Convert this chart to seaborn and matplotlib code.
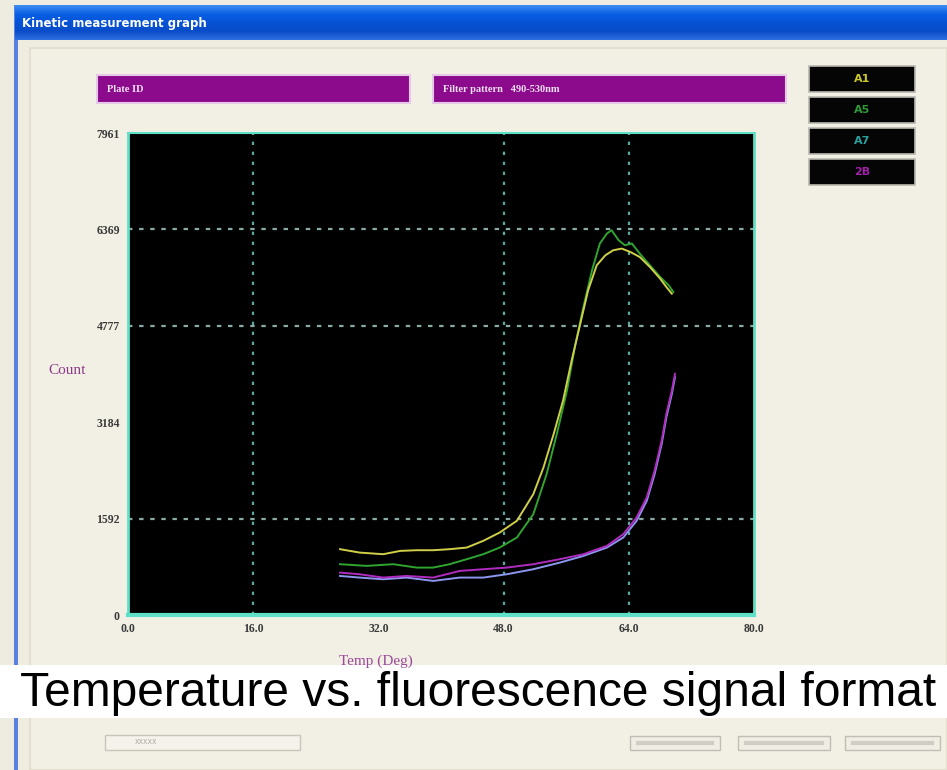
import numpy as np
import pandas as pd
import matplotlib
matplotlib.use("Agg")
import matplotlib.pyplot as plt
from matplotlib.patches import Rectangle
from matplotlib.colors import LinearSegmentedColormap
import seaborn as sns

# ---------------- data ----------------
temp_a1 = [27.1, 29.6, 32.6, 34.8, 36.9, 39.0, 41.1, 43.3, 45.4, 47.5, 49.7, 51.8, 53.1, 54.4,
           55.6, 56.7, 57.8, 58.8, 59.9, 61.0, 62.0, 63.1, 64.2, 65.4, 66.7, 68.0, 68.8, 69.5]
count_a1 = [1087, 1031, 1004, 1059, 1070, 1070, 1087, 1114, 1225, 1362, 1556, 1997, 2438, 2990,
            3542, 4204, 4811, 5362, 5776, 5941, 6024, 6052, 5996, 5913, 5748, 5556, 5417, 5307]

temp_a5 = [27.1, 30.5, 33.9, 36.9, 39.0, 41.1, 43.3, 45.4, 47.5, 49.7, 51.8, 53.5, 54.8, 56.1,
           57.1, 58.2, 59.3, 60.3, 61.2, 61.8, 62.7, 63.5, 64.4, 65.4, 66.7, 68.0, 69.1, 69.7]
count_a5 = [839, 811, 839, 783, 783, 839, 922, 1004, 1114, 1280, 1666, 2328, 2990, 3707,
            4424, 5086, 5693, 6135, 6300, 6355, 6190, 6107, 6135, 5969, 5776, 5583, 5445, 5334]

temp_a7 = [27.1, 29.6, 32.6, 35.6, 39.0, 42.4, 45.4, 48.4, 51.8, 55.2, 58.2, 61.2, 63.3, 65.0,
           66.3, 67.3, 68.2, 68.8, 69.5, 69.9]
count_a7 = [645, 618, 590, 618, 563, 618, 618, 673, 756, 866, 976, 1114, 1280, 1556,
            1887, 2328, 2825, 3266, 3652, 3928]

temp_2b = [27.1, 29.6, 32.6, 35.6, 39.0, 42.4, 45.4, 48.4, 51.8, 55.2, 58.2, 61.2, 63.3, 65.0,
           66.3, 67.3, 68.2, 68.8, 69.5, 69.9]
count_2b = [700, 673, 618, 645, 618, 728, 756, 783, 839, 922, 1004, 1142, 1335, 1611,
            1942, 2383, 2880, 3321, 3707, 3983]

series_names = ["A1", "A5", "A7", "2B"]
x_ticks = [0.0, 16.0, 32.0, 48.0, 64.0, 80.0]
y_ticks = [0, 1592, 3184, 4777, 6369, 7961]
x_grid = [16.0, 48.0, 64.0]
y_grid = [1592, 4777, 6369]

title_text = "Kinetic measurement graph"
plate_text = "Plate ID"
filter_text = "Filter pattern   490-530nm"
caption = "Temperature vs. fluorescence signal format"

# ---------------- styling ----------------
line_colors = {"A1": "#cfcf48", "A5": "#2fa52f", "A7": "#8c96ee", "2B": "#b02cc0"}
label_colors = {"A1": "#c8c828", "A5": "#2e9a3a", "A7": "#2aa0a0", "2B": "#a020a8"}

W, H = 947, 770
fig = plt.figure(figsize=(W / 100, H / 100), dpi=100)
fig.patch.set_facecolor("#eeece0")

def fx(px):
    return px / W

def fy(py):
    return 1 - py / H

# background axes for window chrome
bg = fig.add_axes([0, 0, 1, 1])
bg.set_xlim(0, W)
bg.set_ylim(H, 0)
bg.axis("off")

bg.add_patch(Rectangle((15, 5), W - 15, H - 5, facecolor="#efede0", edgecolor="none"))
bg.add_patch(Rectangle((30, 48), W - 30, H - 48, facecolor="#f2f0e4", edgecolor="#e4e0d0", lw=1.5))
bg.add_patch(Rectangle((14, 5), 4, H - 5, facecolor="#5a80e0", edgecolor="none"))

grad = np.linspace(0, 1, 64).reshape(-1, 1)
cm = LinearSegmentedColormap.from_list("xp", ["#3d8cf2", "#0b5fe3", "#0552d6", "#0a4cc8", "#2e6ee0"])
bg.imshow(grad, extent=(15, W, 40, 5), aspect="auto", cmap=cm, zorder=1)
bg.text(22, 24, title_text, color="white", fontsize=8.5, fontweight="bold",
        va="center", ha="left", family="DejaVu Sans", zorder=2)

for (x0, x1, txt) in [(97, 410, plate_text), (433, 786, filter_text)]:
    bg.add_patch(Rectangle((x0, 75), x1 - x0, 28, facecolor="#8c0a8c",
                           edgecolor="#e8c8e8", lw=1.5, zorder=2))
    bg.text(x0 + 10, 89, txt, color="#f0e0f0", fontsize=7.5, va="center", ha="left",
            family="Liberation Serif", fontweight="bold", zorder=3)

box_tops = [66, 97, 128, 159]
for name, top in zip(series_names, box_tops):
    bg.add_patch(Rectangle((809, top), 106, 26, facecolor="#050505",
                           edgecolor="#b8b8b0", lw=1.2, zorder=2))
    bg.text(862, top + 13, name, color=label_colors[name], fontsize=8, fontweight="bold",
            va="center", ha="center", family="DejaVu Sans", zorder=3)

# ---------------- plot axes ----------------
ax_l, ax_r, ax_t, ax_b = 128, 754, 133, 615
ax = fig.add_axes([fx(ax_l), fy(ax_b), (ax_r - ax_l) / W, (ax_b - ax_t) / H])
ax.set_facecolor("black")

frames = []
for name, t, c in [("A1", temp_a1, count_a1), ("A5", temp_a5, count_a5),
                   ("A7", temp_a7, count_a7), ("2B", temp_2b, count_2b)]:
    frames.append(pd.DataFrame({"Temp": t, "Count": c, "Well": name}))
df = pd.concat(frames, ignore_index=True)

for g in x_grid:
    ax.axvline(g, color="#5aa8a0", lw=1.6, ls=(0, (1.5, 3)), zorder=1)
for g in y_grid:
    ax.axhline(g, color="#8aaaa6", lw=1.6, ls=(0, (2, 3)), zorder=1)

sns.lineplot(data=df, x="Temp", y="Count", hue="Well", palette=line_colors,
             hue_order=["A7", "2B", "A5", "A1"], estimator=None, sort=False,
             lw=1.4, legend=False, ax=ax, zorder=3)

ax.set_xlim(0, 80)
ax.set_ylim(0, 7961)
ax.set_xticks(x_ticks)
ax.set_xticklabels([f"{v:.1f}" for v in x_ticks])
ax.set_yticks(y_ticks)
ax.set_yticklabels([str(v) for v in y_ticks])
ax.tick_params(length=0, colors="#3a3a3a", labelsize=8.5, pad=6)
for lab in ax.get_xticklabels() + ax.get_yticklabels():
    lab.set_family("Liberation Serif")
    lab.set_fontweight("bold")
ax.set_xlabel("")
ax.set_ylabel("")
ax.grid(False)
for side, lw in [("bottom", 3), ("left", 2), ("top", 1.5), ("right", 2)]:
    ax.spines[side].set_color("#5ee0c8")
    ax.spines[side].set_linewidth(lw)

fig.text(fx(48), fy(370), "Count", color="#8a3a8a", fontsize=11,
         family="Liberation Serif", ha="left", va="center")
fig.text(fx(376), fy(661), "Temp (Deg)", color="#9a4a9a", fontsize=11,
         family="Liberation Serif", ha="center", va="center")

# white caption band
band = fig.add_axes([0, fy(718), 1, (718 - 665) / H])
band.set_xlim(0, 1)
band.set_ylim(0, 1)
band.axis("off")
band.add_patch(Rectangle((0, 0), 1, 1, facecolor="white", edgecolor="none"))
band.text(0.5045, 0.46, caption, color="black", fontsize=34.5,
          family=["Liberation Sans Narrow", "Liberation Sans"],
          ha="center", va="center")

bg.add_patch(Rectangle((105, 735), 195, 15, facecolor="#f4f2ea", edgecolor="#c8c6bc", lw=1, zorder=2))
bg.text(135, 742, "xxxxx", color="#b0b0a8", fontsize=5.5, va="center", zorder=3)
for x0, x1 in [(630, 720), (738, 830), (845, 940)]:
    bg.add_patch(Rectangle((x0, 736), x1 - x0, 14, facecolor="#f0eee4", edgecolor="#c0beb4", lw=1, zorder=2))
    bg.plot([x0 + 8, x1 - 8], [743, 743], color="#d0cec4", lw=3, zorder=3)

fig.savefig("out.png", dpi=100, facecolor=fig.get_facecolor())
